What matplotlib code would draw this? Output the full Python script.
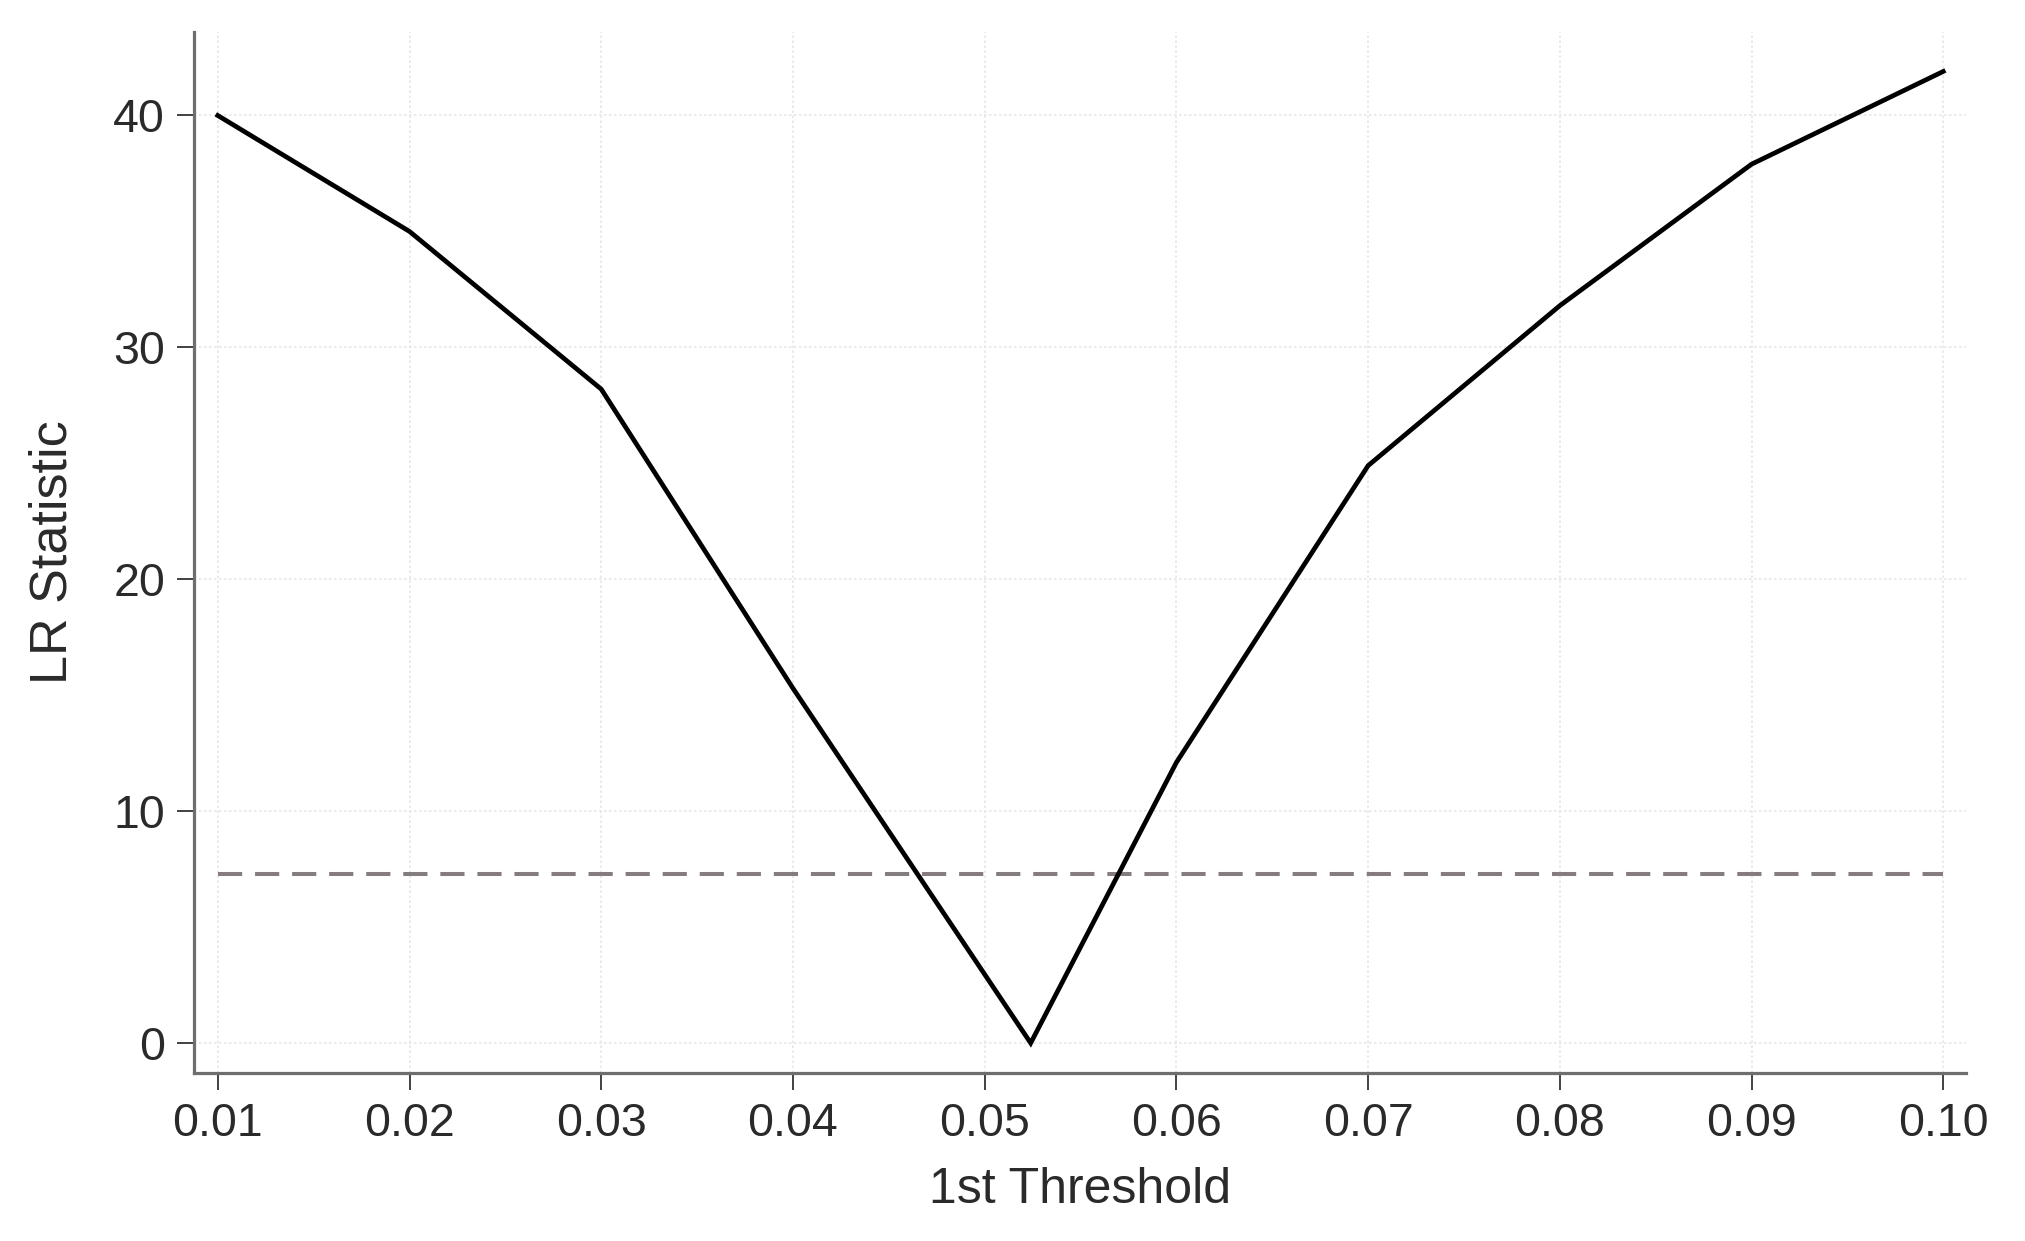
import matplotlib
matplotlib.use("Agg")
import matplotlib.pyplot as plt

# LR statistic profile over candidate thresholds
thresholds = [0.01, 0.02, 0.03, 0.04, 0.0524, 0.06, 0.07, 0.08, 0.09, 0.10]
lr_stat = [40.0, 35.0, 28.2, 15.3, 0.0, 12.1, 24.9, 31.8, 37.9, 41.9]

crit_value = 7.3
crit_span = [0.01, 0.10]

xticks = [0.01, 0.02, 0.03, 0.04, 0.05, 0.06, 0.07, 0.08, 0.09, 0.10]
xtick_labels = ["0.01", "0.02", "0.03", "0.04", "0.05", "0.06", "0.07", "0.08", "0.09", "0.10"]
yticks = [0, 10, 20, 30, 40]

plt.rcParams["font.family"] = ["Liberation Sans", "DejaVu Sans"]

fig = plt.figure(figsize=(20.25, 12.41), dpi=100)
ax = fig.add_axes([0.096, 0.1354, 0.875, 0.8388])

ax.plot(thresholds, lr_stat, color="black", linewidth=3.4, solid_joinstyle="miter", zorder=3)
ax.plot(crit_span, [crit_value, crit_value], color="#857c7e", linewidth=2.9,
        linestyle=(0, (6, 3.2)), zorder=2)

ax.set_xlim(0.00878, 0.1012)
ax.set_ylim(-1.29, 43.6)
ax.set_xticks(xticks)
ax.set_xticklabels(xtick_labels)
ax.set_yticks(yticks)

ax.grid(True, color="#e6e6e6", linestyle=(0, (1.5, 1.5)), linewidth=1.2, zorder=0)

for side in ["top", "right"]:
    ax.spines[side].set_visible(False)
for side in ["left", "bottom"]:
    ax.spines[side].set_color("#6e6e6e")
    ax.spines[side].set_linewidth(2.3)

ax.tick_params(axis="both", length=12, width=1.3, color="#333333",
               labelsize=33.5, labelcolor="#2a2a2a", pad=9)

ax.set_xlabel("1st Threshold", fontsize=36, color="#2a2a2a", labelpad=15)
ax.set_ylabel("LR Statistic", fontsize=37.5, color="#2a2a2a", labelpad=26)

fig.savefig("out.png", dpi=100, facecolor="white")
